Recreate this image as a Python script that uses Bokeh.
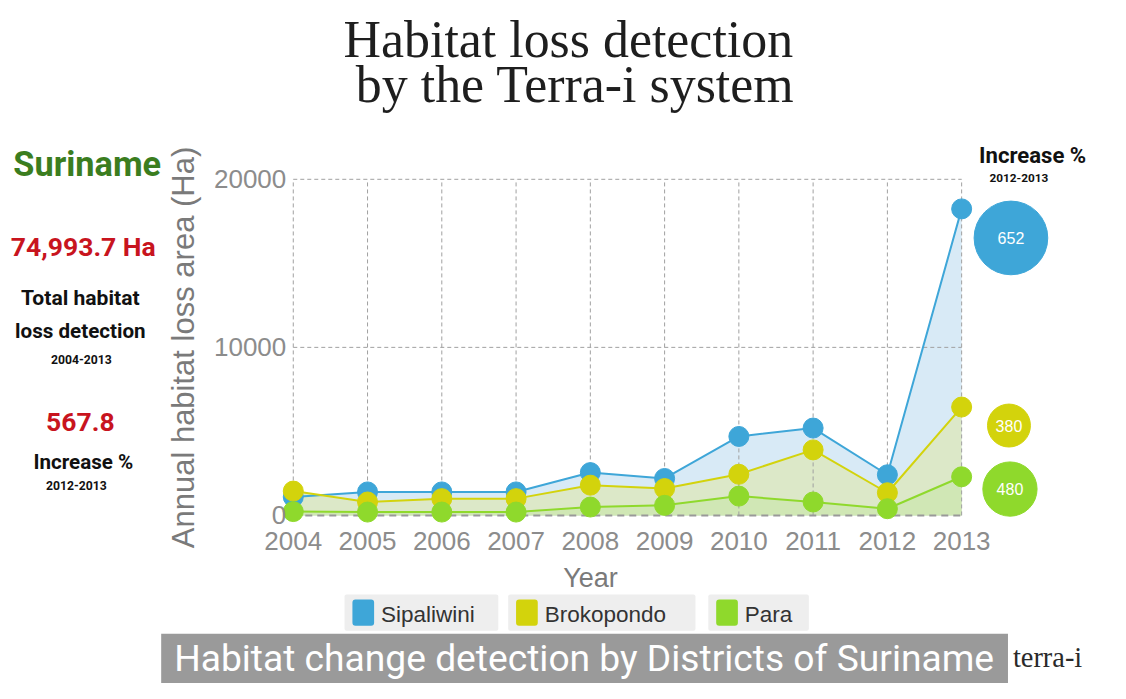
from bokeh.plotting import figure
from bokeh.models import Range1d, Label, LinearAxis, FixedTicker, BoxAnnotation
from bokeh.core.properties import value
from bokeh.embed import file_html
from bokeh.resources import INLINE

# ---------------- data ----------------
years = [2004, 2005, 2006, 2007, 2008, 2009, 2010, 2011, 2012, 2013]
sipaliwini = [1100, 1400, 1400, 1400, 2550, 2200, 4700, 5200, 2420, 18240]
brokopondo = [1450, 800, 1000, 1000, 1800, 1600, 2450, 3900, 1350, 6450]
para = [230, 200, 200, 200, 500, 600, 1150, 800, 400, 2300]
districts = ["Sipaliwini", "Brokopondo", "Para"]
increase_pct = [652, 380, 480]
y_ticks = [0, 10000, 20000]

# ---------------- styling ----------------
line_colors = ["#3ea6d8", "#d3d30c", "#8fd92c"]
fill_colors = ["#d8eaf6", "#dce8c8", "#d0e7b5"]
COND = "Roboto"
SANS = "Liberation Sans"
SERIF = "Liberation Serif"

W, H = 1110, 683
REF_W, REF_H = 1126, 699          # layout coordinates (reference picture pixels)
FS = 0.98                          # font scale to fit the canvas
# reference pixels of the plot box corners (2004 / 2013, 0 / 20000)
PX_LEFT, PX_RIGHT = 297, 975
PY_ZERO, PY_TOP = 527, 183


def extend(a_px, b_px, a_v, b_v, lo_px, hi_px):
    s = (b_v - a_v) / (b_px - a_px)
    return a_v + (lo_px - a_px) * s, a_v + (hi_px - a_px) * s


x0, x1 = extend(PX_LEFT, PX_RIGHT, years[0], years[-1], 0, REF_W)
y0, y1 = extend(PY_ZERO, PY_TOP, y_ticks[0], y_ticks[-1], REF_H, 0)

p = figure(width=W, height=H, x_range=Range1d(x0, x1), y_range=Range1d(y0, y1),
           x_axis_location=None, y_axis_location=None, toolbar_location=None,
           output_backend="svg", min_border=0, outline_line_color=None,
           background_fill_color="white", border_fill_color="white")
p.extra_x_ranges = {"px": Range1d(0, REF_W)}
p.extra_y_ranges = {"px": Range1d(REF_H, 0)}
p.grid.visible = False

# ---------------- axes ----------------
xaxis = LinearAxis(fixed_location=y_ticks[0], bounds=(2003, years[-1]),
                   ticker=FixedTicker(ticks=years), axis_label="Year")
yaxis = LinearAxis(fixed_location=years[0], bounds=(y_ticks[0], y_ticks[-1]),
                   ticker=FixedTicker(ticks=y_ticks), axis_label="Annual habitat loss area (Ha)")
for ax in (xaxis, yaxis):
    ax.axis_line_color = None
    ax.major_tick_line_color = None
    ax.minor_tick_line_color = None
    ax.major_tick_in = 0
    ax.major_tick_out = 0
    ax.major_label_text_font = SANS
    ax.major_label_text_font_size = "26px"
    ax.major_label_text_color = "#8c8c8c"
    ax.axis_label_text_font = SANS
    ax.axis_label_text_font_style = "normal"
    ax.axis_label_text_color = "#7a7a7a"
xaxis.major_label_standoff = 17
xaxis.axis_label_standoff = 9
xaxis.axis_label_text_font_size = "27px"
yaxis.major_label_standoff = 7
yaxis.axis_label_standoff = 10
yaxis.axis_label_text_font_size = "31px"
p.add_layout(xaxis, "below")
p.add_layout(yaxis, "left")

# ---------------- areas ----------------
n = len(years)
for series, fc in zip([sipaliwini, brokopondo, para], fill_colors):
    p.varea(x=years, y1=[0] * n, y2=series, fill_color=fc, fill_alpha=1)

# ---------------- grid (dashed box, drawn over the fills) ----------------
p.segment(x0=years, y0=[y_ticks[0]] * n, x1=years, y1=[y_ticks[-1]] * n,
          line_color="#a0a0a0", line_dash="4 3", line_width=1)
p.segment(x0=[years[0]] * 2, y0=y_ticks[1:], x1=[years[-1]] * 2, y1=y_ticks[1:],
          line_color="#a0a0a0", line_dash="4 3", line_width=1)
p.segment(x0=[years[0]], y0=[y_ticks[0]], x1=[years[-1]], y1=[y_ticks[0]],
          line_color="#999999", line_dash="7 5", line_width=2)

# ---------------- lines + markers ----------------
for series, lc in zip([sipaliwini, brokopondo, para], line_colors):
    p.line(years, series, line_color=lc, line_width=2)
    p.scatter(years, series, size=20, marker="circle", fill_color=lc, line_color=lc)


def lab(text, x, y, size, color, font, style="normal", align="center", baseline="middle"):
    p.add_layout(Label(x=x, y=y, x_range_name="px", y_range_name="px", text=text,
                       text_font=font, text_font_size=f"{size * FS:.1f}px", text_color=color,
                       text_align=align, text_baseline=baseline, text_font_style=style))


def box(l, r, t, b, color, radius=0):
    p.add_layout(BoxAnnotation(left=l, right=r, top=t, bottom=b,
                               x_range_name="px", y_range_name="px",
                               fill_color=color, fill_alpha=1, line_color=None,
                               border_radius=radius))


# ---------------- legend (three separate boxes) ----------------
legend_boxes = [(349, 505), (515, 705), (718, 820)]
for name, col, (bl, br) in zip(districts, line_colors, legend_boxes):
    box(bl, br, 608, 645, "#eeeeee", 2)
    box(bl + 8, bl + 30, 613, 640, col, 3)
    lab(name, bl + 37, 628, 23, "#333333", SANS, align="left")

# ---------------- increase bubbles ----------------
bubble_x_px = [1025, 1023, 1024]
bubble_y_px = [243, 435, 500]
p.scatter(x=bubble_x_px, y=bubble_y_px, size=[v * 0.113 for v in increase_pct],
          marker="circle", fill_color=line_colors, line_color=line_colors,
          x_range_name="px", y_range_name="px")
p.text(x=bubble_x_px, y=bubble_y_px, text=[str(v) for v in increase_pct],
       text_color="white", text_font=value(SANS), text_font_size="16px",
       text_align="center", text_baseline="middle",
       x_range_name="px", y_range_name="px")

# ---------------- title ----------------
lab("Habitat loss detection", 576, 40, 53, "#1e1e1e", SERIF)
lab("by the Terra-i system", 583, 86, 53, "#1e1e1e", SERIF)

# ---------------- left panel ----------------
lab("Suriname", 88, 167, 35, "#3b7d1f", COND, "bold")
lab("74,993.7 Ha", 84, 252, 27, "#c8141e", COND, "bold")
lab("Total habitat", 81, 304, 21.5, "#111111", COND, "bold")
lab("loss detection", 81, 338, 21, "#111111", COND, "bold")
lab("2004-2013", 82, 367, 12.5, "#111111", COND, "bold")
lab("567.8", 81, 431, 27, "#c8141e", COND, "bold")
lab("Increase %", 84, 472, 21, "#111111", COND, "bold")
lab("2012-2013", 77, 496, 12.5, "#111111", COND, "bold")

# ---------------- right header ----------------
lab("Increase %", 1047, 158, 22.5, "#111111", COND, "bold")
lab("2012-2013", 1033, 182, 12, "#111111", COND, "bold")

# ---------------- bottom banner ----------------
box(163, 1022, 648, 705, "#9a9a9a")
lab("Habitat change detection by Districts of Suriname", 592, 673, 38, "white", COND)
lab("terra-i", 1027, 672, 29, "#2a2a2a", SERIF, align="left")

open("out.html", "w").write(file_html(p, INLINE))
